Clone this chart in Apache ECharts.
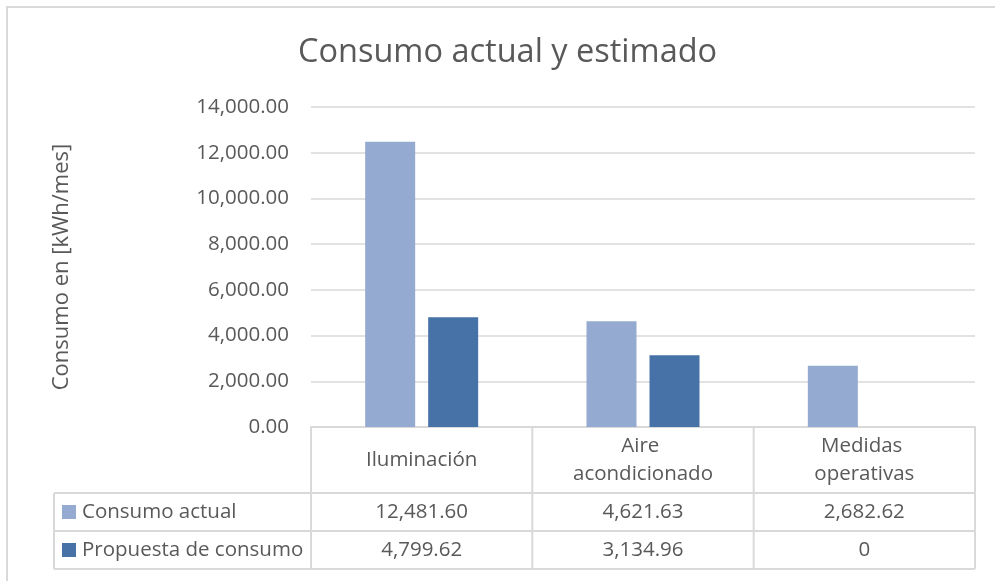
<!DOCTYPE html>
<html>
<head>
<meta charset="utf-8">
<script src="https://cdn.jsdelivr.net/npm/echarts@6/dist/echarts.min.js"></script>
<style>
  html, body { margin: 0; padding: 0; background: #fff; }
  #chart { width: 995px; height: 581px; }
</style>
</head>
<body>
<div id="chart"></div>
<script>
const categories = ['Iluminación', 'Aire acondicionado', 'Medidas operativas']
const seriesNames = ['Consumo actual', 'Propuesta de consumo']
const consumoActual = [12481.60, 4621.63, 2682.62]
const propuestaConsumo = [4799.62, 3134.96, 0]
const yMin = 0
const yMax = 14000
const yStep = 2000

const colors = ['#95aad0', '#4672a7']
const textColor = '#595959'
const lineColor = '#d9d9d9'
const font = '"Open Sans", sans-serif'
const small = 20.5

function fmt(v) {
  if (v === 0) return '0'
  return v.toLocaleString('en-US', { minimumFractionDigits: 2, maximumFractionDigits: 2 })
}

const chart = echarts.init(document.getElementById('chart'))

const option = {
  backgroundColor: '#fff',
  animation: false,
  textStyle: { fontFamily: font },
  title: {
    text: 'Consumo actual y estimado',
    left: 293,
    top: 31,
    textStyle: { color: textColor, fontSize: 32.5, fontWeight: 'normal', fontFamily: font }
  },
  grid: { left: 311, right: 20, top: 107, bottom: 154 },
  xAxis: {
    type: 'category',
    data: categories,
    axisLine: { lineStyle: { color: lineColor, width: 2 } },
    axisTick: { show: false },
    axisLabel: { show: false }
  },
  yAxis: {
    type: 'value',
    min: yMin,
    max: yMax,
    interval: yStep,
    name: 'Consumo en [kWh/mes]',
    nameLocation: 'middle',
    nameGap: 238,
    nameTextStyle: { color: textColor, fontSize: 22, fontFamily: font },
    axisLine: { show: false },
    axisTick: { show: false },
    axisLabel: {
      color: textColor,
      fontSize: small,
      margin: 22,
      formatter: v => v.toLocaleString('en-US', { minimumFractionDigits: 2, maximumFractionDigits: 2 })
    },
    splitLine: { lineStyle: { color: lineColor, width: 1.5 } }
  },
  series: [
    {
      name: seriesNames[0],
      type: 'bar',
      data: consumoActual,
      barWidth: 50,
      barGap: '26%',
      itemStyle: { color: colors[0] }
    },
    {
      name: seriesNames[1],
      type: 'bar',
      data: propuestaConsumo,
      barWidth: 50,
      barGap: '26%',
      itemStyle: { color: colors[1] }
    }
  ]
}

chart.setOption(option)

// data table below the plot, placed from the category axis
function buildTable() {
  const c0 = chart.convertToPixel({ xAxisIndex: 0 }, 0)
  const c1 = chart.convertToPixel({ xAxisIndex: 0 }, 1)
  const band = c1 - c0
  const axisY = chart.convertToPixel({ yAxisIndex: 0 }, yMin)
  const bounds = [0, 1, 2, 3].map(i => c0 - band / 2 + i * band)
  const right = bounds[3]
  const tableLeft = 54
  const headerH = 66
  const rowH = 38
  const rowsTop = axisY + headerH
  const bottom = rowsTop + rowH * 2
  const g = []
  const line = (x1, y1, x2, y2) => g.push({
    type: 'line',
    shape: { x1, y1, x2, y2 },
    style: { stroke: lineColor, lineWidth: 2 },
    silent: true
  })

  bounds.forEach(x => line(x, axisY, x, bottom))
  line(tableLeft, rowsTop, tableLeft, bottom)
  for (let r = 0; r <= 2; r++) line(tableLeft, rowsTop + r * rowH, right, rowsTop + r * rowH)

  categories.forEach((name, i) => {
    g.push({
      type: 'text',
      x: bounds[i] + band / 2,
      y: axisY + headerH / 2,
      style: {
        text: name,
        width: 160,
        overflow: 'break',
        lineHeight: 28,
        align: 'center',
        verticalAlign: 'middle',
        fill: textColor,
        fontSize: small,
        fontFamily: font
      }
    })
  })

  const rows = [consumoActual, propuestaConsumo]
  rows.forEach((vals, r) => {
    const cy = rowsTop + r * rowH + rowH / 2
    g.push({
      type: 'rect',
      shape: { x: 62, y: cy - 7, width: 14, height: 14 },
      style: { fill: colors[r] }
    })
    g.push({
      type: 'text',
      x: 82,
      y: cy,
      style: {
        text: seriesNames[r],
        verticalAlign: 'middle',
        fill: textColor,
        fontSize: small,
        fontFamily: font
      }
    })
    vals.forEach((v, i) => {
      g.push({
        type: 'text',
        x: bounds[i] + band / 2,
        y: cy,
        style: {
          text: fmt(v),
          align: 'center',
          verticalAlign: 'middle',
          fill: textColor,
          fontSize: small,
          fontFamily: font
        }
      })
    })
  })

  // chart area outline (top and left edges visible)
  g.push({
    type: 'rect',
    shape: { x: 7, y: 7, width: 1100, height: 700 },
    style: { fill: 'none', stroke: lineColor, lineWidth: 2 },
    silent: true
  })

  chart.setOption({ graphic: g })
}

buildTable()
</script>
</body>
</html>
